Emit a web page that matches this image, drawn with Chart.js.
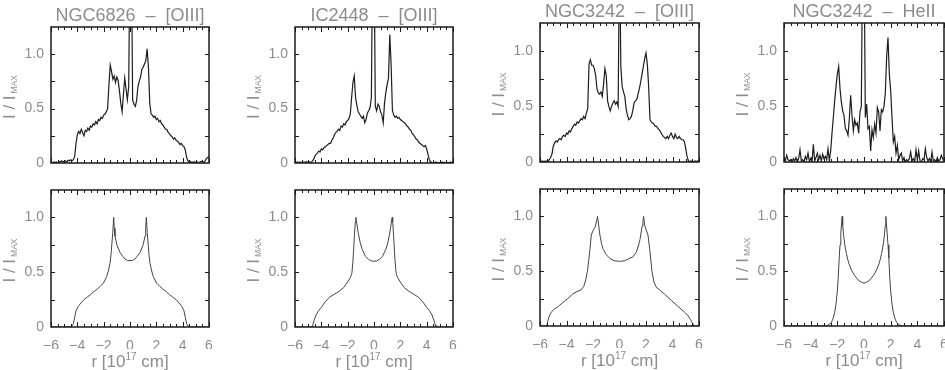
<!DOCTYPE html>
<html>
<head>
<meta charset="utf-8">
<script src="https://cdn.jsdelivr.net/npm/chart.js@4.4.1/dist/chart.umd.min.js"></script>
<style>
  html,body{margin:0;padding:0;background:#fff;}
  body{width:945px;height:370px;position:relative;overflow:hidden;}
  canvas{position:absolute;}
</style>
</head>
<body>
<script>
// radius grid of the observed cuts [10^17 cm]
const rObs = [
  -6,-5.9,-5.8,-5.7,-5.6,-5.5,-5.4,-5.3,-5.2,-5.1,
  -5,-4.9,-4.8,-4.7,-4.6,-4.5,-4.4,-4.3,-4.2,-4.1,
  -4,-3.9,-3.8,-3.7,-3.6,-3.5,-3.4,-3.3,-3.2,-3.1,
  -3,-2.9,-2.8,-2.7,-2.6,-2.5,-2.4,-2.3,-2.2,-2.1,
  -2,-1.9,-1.8,-1.7,-1.6,-1.5,-1.4,-1.3,-1.2,-1.1,
  -1,-0.9,-0.8,-0.7,-0.6,-0.5,-0.4,-0.3,-0.2,-0.1,
  0,0.1,0.2,0.3,0.4,0.5,0.6,0.7,0.8,0.9,
  1,1.1,1.2,1.3,1.4,1.5,1.6,1.7,1.8,1.9,
  2,2.1,2.2,2.3,2.4,2.5,2.6,2.7,2.8,2.9,
  3,3.1,3.2,3.3,3.4,3.5,3.6,3.7,3.8,3.9,
  4,4.1,4.2,4.3,4.4,4.5,4.6,4.7,4.8,4.9,
  5,5.1,5.2,5.3,5.4,5.5,5.6,5.7,5.8,5.9,
  6
];

// observed I/Imax (top row)
const obsNGC6826 = [
  0.01,0,0.01,0.005,0.01,0,0.015,0.01,0.02,0.01,
  0.015,0.02,0.01,0.025,0.02,0.03,0.02,0.03,0.06,0.18,
  0.26,0.29,0.27,0.31,0.28,0.25,0.30,0.29,0.32,0.30,
  0.34,0.33,0.36,0.35,0.38,0.36,0.40,0.39,0.42,0.41,
  0.44,0.45,0.47,0.50,0.72,0.90,0.84,0.77,0.80,0.74,
  0.79,0.76,0.66,0.55,0.47,0.63,0.78,0.68,0.58,0.70,
  2.0,2.0,0.58,0.54,0.52,0.57,0.70,0.75,0.79,0.86,
  0.88,0.91,0.94,1.05,0.88,0.55,0.45,0.44,0.42,0.43,
  0.40,0.41,0.38,0.39,0.36,0.35,0.33,0.31,0.31,0.28,
  0.27,0.25,0.24,0.22,0.23,0.21,0.20,0.19,0.17,0.18,
  0.16,0.15,0.12,0.05,0.02,0.01,0.015,0,0.01,0.01,
  0.005,0.01,0,0.01,0.015,0.01,0.005,0.02,0.04,0.05,
  0.06
];
const obsIC2448 = [
  0.01,0.005,0.01,0.005,0.01,0,0.01,0.005,0.01,0.01,
  0.005,0.01,0.005,0.015,0.03,0.06,0.08,0.09,0.11,0.10,
  0.13,0.12,0.14,0.15,0.16,0.17,0.18,0.18,0.21,0.23,
  0.26,0.28,0.29,0.31,0.30,0.34,0.33,0.36,0.35,0.38,
  0.39,0.41,0.45,0.60,0.74,0.80,0.60,0.53,0.47,0.45,
  0.43,0.41,0.43,0.37,0.40,0.46,0.48,0.51,0.60,2.0,
  2.0,0.52,0.48,0.54,0.52,0.47,0.44,0.37,0.55,0.65,
  0.72,0.78,1.18,0.90,0.48,0.44,0.42,0.43,0.41,0.42,
  0.40,0.39,0.38,0.37,0.36,0.34,0.33,0.31,0.30,0.27,
  0.26,0.24,0.22,0.21,0.19,0.18,0.17,0.16,0.15,0.16,
  0.13,0.08,0.03,0.01,0.005,0,0.005,0.01,0,0.005,
  0,0.005,0.01,0,0.005,0,0.005,0,0.01,0.005,
  0
];
const obsNGC3242 = [
  0.01,0.005,0.01,0,0.01,0.005,0.01,0.02,0.04,0.07,
  0.14,0.17,0.19,0.18,0.20,0.21,0.20,0.23,0.24,0.23,
  0.26,0.25,0.28,0.27,0.30,0.32,0.34,0.33,0.36,0.35,
  0.37,0.39,0.38,0.41,0.39,0.44,0.48,0.88,0.92,0.87,
  0.87,0.84,0.78,0.66,0.62,0.61,0.63,0.59,0.70,0.84,
  0.78,0.55,0.50,0.46,0.50,0.53,0.55,0.52,0.54,0.50,
  2.0,0.86,0.68,0.63,0.59,0.48,0.42,0.38,0.39,0.41,
  0.46,0.53,0.55,0.56,0.61,0.66,0.72,0.79,0.86,0.93,
  0.98,0.88,0.68,0.38,0.36,0.35,0.34,0.32,0.32,0.30,
  0.29,0.27,0.25,0.23,0.22,0.21,0.23,0.21,0.24,0.26,
  0.23,0.21,0.25,0.22,0.21,0.23,0.21,0.20,0.20,0.18,
  0.12,0.05,0.01,0.005,0.01,0,0.005,0.01,0.005,0.01,
  0.005
];
const obsNGC3242He = [
  0.03,0.01,0.06,0.02,0.01,0.02,0,0.03,0.01,0.04,
  0,0.03,0.11,0.01,0.02,0,0.05,0.02,0.08,0.01,
  0.03,0,0.16,0.01,0.04,0.08,0.02,0.06,0.01,0.07,
  0.03,0.05,0.02,0.12,0.01,0.10,0.26,0.40,0.55,0.68,
  0.79,0.86,0.66,0.54,0.46,0.42,0.30,0.28,0.24,0.39,
  0.60,0.42,0.28,0.38,0.33,0.35,0.26,0.45,0.50,2.0,
  2.0,0.40,0.52,0.30,0.32,0.10,0.29,0.22,0.34,0.26,
  0.49,0.45,0.28,0.47,0.45,0.50,0.62,0.95,1.12,0.79,
  0.64,0.40,0.18,0.23,0.08,0.15,0.02,0.06,0.08,0.01,
  0.04,0,0.02,0.01,0.03,0.09,0.01,0.03,0,0.11,
  0.02,0.10,0.01,0,0.03,0.02,0.12,0.04,0.01,0.03,
  0,0.09,0.01,0.02,0,0.04,0.01,0.02,0.06,0.03,
  0.01
];

// model profiles (bottom row)
const rModNGC6826 = [-6,-4.6,-4.4,-4.3,-4.2,-4.09,-3.95,-3.79,-3.5,-3.28,-3.0,-2.78,-2.5,-2.27,-2.02,-1.77,-1.65,-1.52,-1.45,-1.39,-1.31,-1.24,-1.19,-1.14,-1.0,-0.76,-0.55,-0.38,-0.2,
  0,0.2,0.38,0.55,0.76,1.0,1.14,1.19,1.24,1.31,1.39,1.45,1.52,1.65,1.77,2.02,2.27,2.5,2.78,3.0,3.28,3.5,3.79,3.95,4.09,4.2,4.3,4.4,4.6,6];
const modNGC6826 = [0,0,0.01,0.03,0.09,0.15,0.185,0.21,0.25,0.27,0.295,0.32,0.345,0.37,0.40,0.46,0.51,0.58,0.65,0.74,0.86,1.0,0.90,0.83,0.75,0.68,0.645,0.62,0.608,
  0.605,0.608,0.62,0.645,0.68,0.75,0.83,0.90,1.0,0.86,0.74,0.65,0.58,0.51,0.46,0.40,0.37,0.345,0.32,0.295,0.27,0.25,0.21,0.185,0.15,0.09,0.03,0.01,0,0];

const rModIC2448 = [-6,-4.85,-4.7,-4.65,-4.55,-4.4,-4.2,-4.0,-3.7,-3.4,-3.0,-2.6,-2.3,-2.0,-1.8,-1.68,-1.6,-1.55,-1.48,-1.42,-1.38,-1.3,-1.2,-1.05,-0.9,-0.65,-0.4,-0.2,
  0,0.2,0.4,0.65,0.9,1.05,1.2,1.3,1.38,1.42,1.48,1.55,1.6,1.68,1.8,2.0,2.3,2.6,3.0,3.4,3.7,4.0,4.2,4.4,4.55,4.65,4.7,4.85,6];
const modIC2448 = [0,0,0.005,0.02,0.06,0.11,0.15,0.18,0.23,0.27,0.30,0.33,0.36,0.41,0.45,0.49,0.60,0.70,0.85,0.96,1.0,0.94,0.86,0.77,0.71,0.645,0.615,0.603,
  0.60,0.603,0.615,0.645,0.71,0.77,0.86,0.94,1.0,0.96,0.85,0.70,0.60,0.49,0.45,0.41,0.36,0.33,0.30,0.27,0.23,0.18,0.15,0.11,0.06,0.02,0.005,0,0];

const rModNGC3242 = [-6,-5.55,-5.48,-5.4,-5.3,-5.15,-4.97,-4.6,-4.32,-3.9,-3.55,-3.2,-2.9,-2.7,-2.55,-2.42,-2.3,-2.2,-2.13,-2.0,-1.85,-1.72,-1.66,-1.6,-1.48,-1.35,-1.23,-1.0,-0.71,-0.4,
  0,0.4,0.71,1.0,1.25,1.4,1.55,1.7,1.77,1.82,1.9,2.0,2.15,2.28,2.45,2.6,2.8,3.03,3.4,3.94,4.4,4.97,5.2,5.35,5.5,5.61,6];
const modNGC3242 = [0,0,0.01,0.05,0.09,0.125,0.15,0.18,0.21,0.25,0.29,0.315,0.33,0.36,0.42,0.50,0.62,0.74,0.83,0.87,0.90,0.96,1.0,0.95,0.83,0.75,0.70,0.65,0.615,0.595,
  0.59,0.595,0.615,0.63,0.67,0.72,0.79,0.91,0.96,1.0,0.92,0.88,0.83,0.70,0.50,0.40,0.35,0.33,0.29,0.23,0.18,0.12,0.09,0.06,0.03,0,0];

const rModNGC3242He = [-6,-2.9,-2.75,-2.6,-2.45,-2.32,-2.2,-2.1,-2.0,-1.93,-1.86,-1.8,-1.74,-1.68,-1.64,-1.6,-1.54,-1.45,-1.32,-1.15,-0.94,-0.7,-0.44,-0.2,
  0,0.2,0.44,0.7,0.94,1.15,1.32,1.45,1.54,1.6,1.64,1.68,1.74,1.8,1.86,1.93,2.0,2.1,2.2,2.32,2.45,2.6,2.75,2.9,6];
const modNGC3242He = [0,0,0.005,0.015,0.03,0.07,0.12,0.20,0.32,0.45,0.62,0.74,0.84,0.94,1.0,0.92,0.84,0.75,0.66,0.575,0.51,0.46,0.42,0.40,
  0.39,0.40,0.42,0.46,0.51,0.575,0.66,0.75,0.84,0.92,1.0,0.94,0.84,0.74,0.62,0.45,0.32,0.20,0.12,0.07,0.03,0.015,0.005,0,0];

const titles = ['NGC6826  \u2013  [OIII]','IC2448  \u2013  [OIII]','NGC3242  \u2013  [OIII]','NGC3242  \u2013  HeII'];
const xTicks = [-6,-4,-2,0,2,4,6];
const yTicks = [0,0.5,1.0];

// layout (page px)
const GRAY = '#8c8c8c';
const FONT = '"Liberation Sans", Arial, sans-serif';
const COLS = [[0,245],[245,490],[490,735],[735,945]];
const ROWS = [[0,180],[180,370]];
const FRAMES = [
  [[51,27,209,163],[295,27,453,163],[540,23,699,162],[784,23,944,162]],
  [[51,190,209,327],[295,190,453,327],[540,189,699,326],[784,189,944,326]]
];
const YW = 40, XH = 22;

const pairs = (xs,ys)=>xs.map((x,i)=>({x, y:ys[i]}));
const minus = v=> v<0 ? '\u2212'+Math.abs(v) : String(v);

// IDL look: closed frame, inward ticks, titles with sub/superscripts
const idl = {
  id:'idl',
  afterDraw(c, _a, o){
    const {ctx, chartArea:a, scales:{x,y}} = c;
    const L=Math.round(a.left), R=Math.round(a.right), T=Math.round(a.top), B=Math.round(a.bottom);
    ctx.save();
    ctx.strokeStyle='#1a1a1a'; ctx.lineWidth=1.5;
    ctx.strokeRect(L,T,R-L,B-T);
    ctx.lineWidth=1;
    ctx.beginPath();
    for(let v=-6; v<=6; v+=0.5){
      const p=Math.round(x.getPixelForValue(v))+.5, len = v%2===0 ? 5 : 3;
      ctx.moveTo(p,B); ctx.lineTo(p,B-len); ctx.moveTo(p,T); ctx.lineTo(p,T+len);
    }
    for(let v=0.25; v<1.25; v+=0.25){
      const p=Math.round(y.getPixelForValue(v))+.5;
      ctx.moveTo(L,p); ctx.lineTo(L+4,p); ctx.moveTo(R,p); ctx.lineTo(R-4,p);
    }
    ctx.stroke();

    ctx.fillStyle=GRAY; ctx.textBaseline='alphabetic';
    const mid=(L+R)/2;
    if(o.title){
      ctx.textAlign='center'; ctx.font='18px '+FONT;
      ctx.fillText(o.title, mid, T-6);
    }
    // x title: r [10^17 cm]
    if(o.xlab){
      ctx.textAlign='left';
      ctx.font='17px '+FONT; const w1=ctx.measureText('r [10').width, w3=ctx.measureText(' cm]').width;
      ctx.font='10px '+FONT; const w2=ctx.measureText('17').width;
      let x0=mid-(w1+w2+w3)/2; const yb=B+40;
      ctx.font='17px '+FONT; ctx.fillText('r [10', x0, yb);
      ctx.font='10px '+FONT; ctx.fillText('17', x0+w1, yb-7);
      ctx.font='17px '+FONT; ctx.fillText(' cm]', x0+w1+w2, yb);
    }
    // y title: I/I_MAX
    ctx.save();
    ctx.translate(L-36, (T+B)/2+2);
    ctx.rotate(-Math.PI/2);
    ctx.textAlign='left';
    ctx.font='17px '+FONT; const m1=ctx.measureText('I / I').width;
    ctx.font='8.5px '+FONT; const m2=ctx.measureText('MAX').width;
    const s=-(m1+2+m2)/2;
    ctx.font='17px '+FONT; ctx.fillText('I / I', s, 0);
    ctx.font='8.5px '+FONT; ctx.fillText('MAX', s+m1+2, 2);
    ctx.restore();
    ctx.restore();
  }
};

function panel(row, col, pts, title){
  const [cx0,cx1]=COLS[col], [cy0,cy1]=ROWS[row];
  const W=cx1-cx0, H=cy1-cy0;
  const f=FRAMES[row][col];
  const fl=f[0]-cx0, ft=f[1]-cy0, fr=f[2]-cx0, fb=f[3]-cy0;
  const bottom = row===1, xh = bottom ? XH : 0;
  const cv=document.createElement('canvas');
  cv.width=W; cv.height=H;
  cv.style.left=cx0+'px'; cv.style.top=cy0+'px';
  document.body.appendChild(cv);
  return new Chart(cv,{
    type:'line',
    data:{datasets:[{
      data: pts,
      borderColor: bottom ? '#444' : '#1e1e1e',
      borderWidth: bottom ? 1 : 1.2,
      pointRadius: 0,
      tension: 0,
      fill: false
    }]},
    options:{
      responsive:false, animation:false, events:[],
      layout:{padding:{left:fl-YW, right:W-fr, top:ft, bottom:H-fb-xh}},
      plugins:{legend:{display:false}, tooltip:{enabled:false}, idl:{title, xlab:bottom}},
      scales:{
        x:{
          type:'linear', min:-6, max:6,
          grid:{display:false, drawTicks:false}, border:{display:false},
          afterBuildTicks: s=>{ s.ticks = xTicks.map(v=>({value:v})); },
          ticks:{display:bottom, padding:11, color:GRAY, font:{family:FONT, size:14}, maxRotation:0, autoSkip:false, callback:v=>minus(v)},
          afterFit: s=>{ s.height=xh; s.paddingLeft=0; s.paddingRight=0; }
        },
        y:{
          min:0, max:1.25,
          grid:{display:false, drawTicks:false}, border:{display:false},
          afterBuildTicks: s=>{ s.ticks = yTicks.map(v=>({value:v})); },
          ticks:{padding:7, color:GRAY, font:{family:FONT, size:14}, callback:v=> v===0 ? '0' : v.toFixed(1)},
          afterFit: s=>{ s.width=YW; s.paddingTop=0; s.paddingBottom=0; }
        }
      }
    },
    plugins:[idl]
  });
}

panel(0,0,pairs(rObs,obsNGC6826),titles[0]);
panel(0,1,pairs(rObs,obsIC2448),titles[1]);
panel(0,2,pairs(rObs,obsNGC3242),titles[2]);
panel(0,3,pairs(rObs,obsNGC3242He),titles[3]);
panel(1,0,pairs(rModNGC6826,modNGC6826),'');
panel(1,1,pairs(rModIC2448,modIC2448),'');
panel(1,2,pairs(rModNGC3242,modNGC3242),'');
panel(1,3,pairs(rModNGC3242He,modNGC3242He),'');
</script>
</body>
</html>
